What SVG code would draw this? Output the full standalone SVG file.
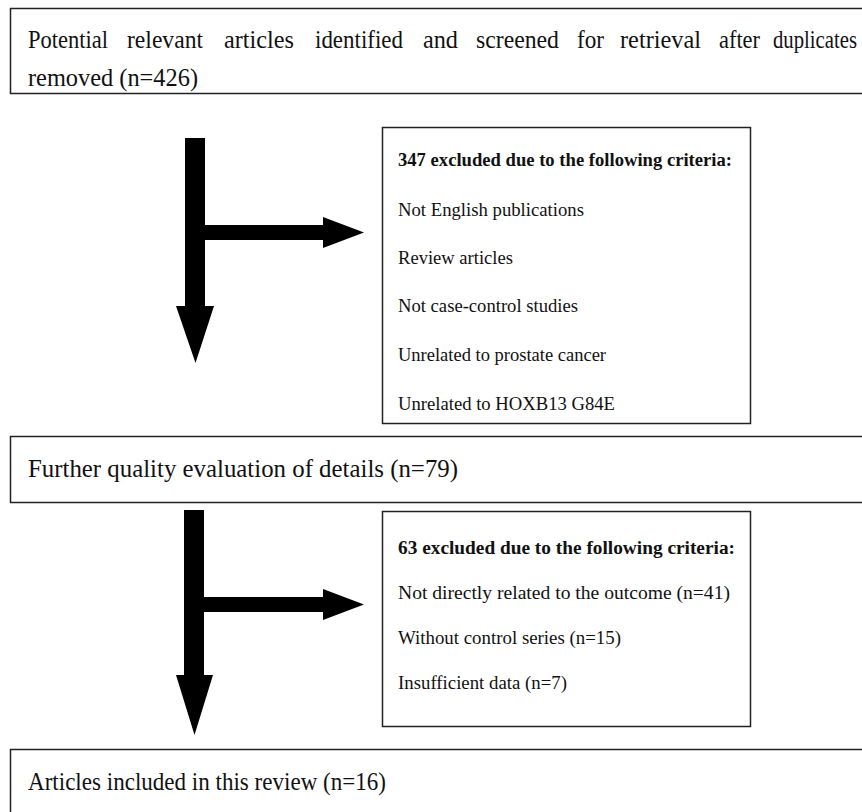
<svg xmlns="http://www.w3.org/2000/svg" width="862" height="812" viewBox="0 0 862 812">
<style>
.box{fill:#fff;stroke:#222;stroke-width:1.5}
.big{font-family:"Liberation Serif","Times New Roman",serif;font-size:25px;fill:#111}
.sm{font-family:"Liberation Serif","Times New Roman",serif;font-size:19.5px;fill:#111}
.b{font-weight:bold;font-size:18.5px}
.arr{fill:#000}
</style>
<rect width="862" height="812" fill="#fff"/>
<g id="n1">
<rect class="box" x="10.5" y="8.5" width="870" height="85"/>
<text class="big" x="28" y="48" textLength="80" lengthAdjust="spacingAndGlyphs">Potential</text>
<text class="big" x="127" y="48" textLength="76" lengthAdjust="spacingAndGlyphs">relevant</text>
<text class="big" x="224" y="48" textLength="70" lengthAdjust="spacingAndGlyphs">articles</text>
<text class="big" x="315" y="48" textLength="88" lengthAdjust="spacingAndGlyphs">identified</text>
<text class="big" x="423" y="48" textLength="35" lengthAdjust="spacingAndGlyphs">and</text>
<text class="big" x="476" y="48" textLength="83" lengthAdjust="spacingAndGlyphs">screened</text>
<text class="big" x="577" y="48" textLength="27" lengthAdjust="spacingAndGlyphs">for</text>
<text class="big" x="620" y="48" textLength="81" lengthAdjust="spacingAndGlyphs">retrieval</text>
<text class="big" x="719" y="48" textLength="41" lengthAdjust="spacingAndGlyphs">after</text>
<text class="big" x="773" y="48" textLength="84" lengthAdjust="spacingAndGlyphs">duplicates</text>
<text class="big" x="28" y="86" textLength="170" lengthAdjust="spacingAndGlyphs">removed (n=426)</text>
</g>
<g id="n2">
<rect class="box" x="382.5" y="127.5" width="368" height="296"/>
<text class="sm b" x="398" y="166" textLength="334" lengthAdjust="spacingAndGlyphs">347 excluded due to the following criteria:</text>
<text class="sm" x="398" y="216" textLength="186" lengthAdjust="spacingAndGlyphs">Not English publications</text>
<text class="sm" x="398" y="264" textLength="115" lengthAdjust="spacingAndGlyphs">Review articles</text>
<text class="sm" x="398" y="312" textLength="180" lengthAdjust="spacingAndGlyphs">Not case-control studies</text>
<text class="sm" x="398" y="361" textLength="208" lengthAdjust="spacingAndGlyphs">Unrelated to prostate cancer</text>
<text class="sm" x="398" y="410" textLength="217" lengthAdjust="spacingAndGlyphs">Unrelated to HOXB13 G84E</text>
</g>
<g id="n3">
<rect class="box" x="10.5" y="436.5" width="870" height="66"/>
<text class="big" x="28" y="477" textLength="430" lengthAdjust="spacingAndGlyphs">Further quality evaluation of details (n=79)</text>
</g>
<g id="n4">
<rect class="box" x="382.5" y="511.5" width="368" height="215"/>
<text class="sm b" x="398" y="554" textLength="337" lengthAdjust="spacingAndGlyphs">63 excluded due to the following criteria:</text>
<text class="sm" x="398" y="599" textLength="332" lengthAdjust="spacingAndGlyphs">Not directly related to the outcome (n=41)</text>
<text class="sm" x="398" y="644" textLength="223" lengthAdjust="spacingAndGlyphs">Without control series (n=15)</text>
<text class="sm" x="398" y="689" textLength="169" lengthAdjust="spacingAndGlyphs">Insufficient data (n=7)</text>
</g>
<g id="n5">
<rect class="box" x="10.5" y="749.5" width="870" height="80"/>
<text class="big" x="28" y="790" textLength="358" lengthAdjust="spacingAndGlyphs">Articles included in this review (n=16)</text>
</g>
<g id="connectors">
<polygon class="arr" points="185,138 205,138 205,225 323,225 323,217 364,232.5 323,248 323,240 205,240 205,306 214,306 195.5,363 176,306 185,306"/>
<polygon class="arr" points="184,510 204,510 204,597 323,597 323,589 364,604.5 323,620 323,612 204,612 204,675 213,675 194.5,735 176,675 184,675"/>
</g>
</svg>
